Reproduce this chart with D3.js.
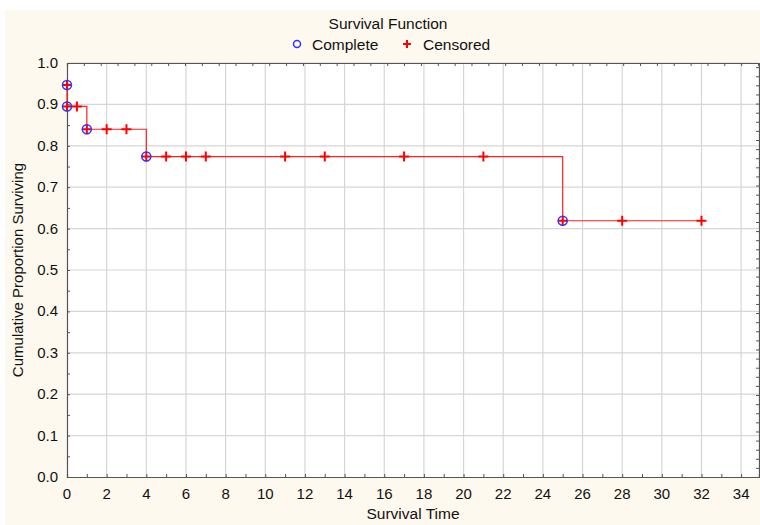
<!DOCTYPE html>
<html>
<head>
<meta charset="utf-8">
<script src="https://cdn.jsdelivr.net/npm/d3@7"></script>
<style>
  body { margin: 0; background: #fff; }
  svg { display: block; font-family: "Liberation Sans", Arial, sans-serif; }
</style>
</head>
<body>
<div id="chart"></div>
<script>
// Kaplan-Meier survival function
const stepTimes = [0, 0, 1, 4, 25, 32];
const stepValues = [0.947, 0.895, 0.84, 0.774, 0.619, 0.619];

const completeTimes = [0, 0, 1, 4, 25];
const completeValues = [0.947, 0.895, 0.84, 0.774, 0.619];

const censoredTimes = [0, 0, 0.5, 1, 2, 3, 4, 5, 6, 7, 11, 13, 17, 21, 25, 28, 32];
const censoredValues = [0.947, 0.895, 0.895, 0.84, 0.84, 0.84, 0.774, 0.774, 0.774, 0.774, 0.774, 0.774, 0.774, 0.774, 0.619, 0.619, 0.619];

const xTicks = d3.range(0, 35, 2);
const yTicks = d3.range(0, 1.01, 0.1);

const width = 760, height = 525;
const margin = { top: 63, right: 1, bottom: 48, left: 67 };

const svg = d3.select("#chart")
    .append("svg")
    .attr("width", width)
    .attr("height", height);

// cream frame
svg.append("rect")
    .attr("x", 5).attr("y", 10)
    .attr("width", width - 5).attr("height", height - 10)
    .attr("fill", "#fef9ee");

const x = d3.scaleLinear()
    .domain([0, 34.9])
    .range([margin.left, width - margin.right]);

const y = d3.scaleLinear()
    .domain([0, 1])
    .range([height - margin.bottom, margin.top]);

// plot area
svg.append("rect")
    .attr("x", x(0)).attr("y", y(1))
    .attr("width", x.range()[1] - x(0))
    .attr("height", y(0) - y(1))
    .attr("fill", "#fff");

// grid
svg.append("g")
    .selectAll("line")
    .data(xTicks.slice(1))
    .join("line")
    .attr("x1", (d) => x(d)).attr("x2", (d) => x(d))
    .attr("y1", y(0)).attr("y2", y(1))
    .attr("stroke", "#d6d6d6").attr("stroke-width", 1.2);

svg.append("g")
    .selectAll("line")
    .data(yTicks.slice(1))
    .join("line")
    .attr("x1", x(0)).attr("x2", x.range()[1])
    .attr("y1", (d) => y(d)).attr("y2", (d) => y(d))
    .attr("stroke", "#d6d6d6").attr("stroke-width", 1.2);

// axes (ticks point inward)
const axisColor = "#555";

const xAxis = svg.append("g")
    .attr("transform", `translate(0,${y(0)})`)
    .call(d3.axisBottom(x).tickValues(d3.range(0, 35, 1)).tickSize(-3).tickFormat(""));
xAxis.append("g").selectAll("text")
    .data(xTicks)
    .join("text")
    .attr("x", (d) => x(d))
    .attr("y", 22)
    .attr("text-anchor", "middle")
    .attr("fill", "#111")
    .attr("font-size", "15px")
    .text((d) => d);

const yAxis = svg.append("g")
    .attr("transform", `translate(${x(0)},0)`)
    .call(d3.axisLeft(y).tickValues(d3.range(0, 1.001, 0.05)).tickSize(-3).tickFormat(""));
yAxis.append("g").selectAll("text")
    .data(yTicks)
    .join("text")
    .attr("x", -9)
    .attr("y", (d) => y(d) + 5)
    .attr("text-anchor", "end")
    .attr("fill", "#111")
    .attr("font-size", "15px")
    .text((d) => d.toFixed(1));

svg.append("g")
    .attr("transform", `translate(0,${y(1)})`)
    .call(d3.axisTop(x).tickValues(d3.range(0, 35, 0.85)).tickSize(-3).tickFormat(""));

svg.append("g")
    .attr("transform", `translate(${x.range()[1]},0)`)
    .call(d3.axisRight(y).tickValues(d3.range(0, 1.001, 0.022)).tickSize(-3).tickFormat(""));

svg.selectAll(".domain").attr("stroke", axisColor).attr("stroke-width", 1.2);
svg.selectAll(".tick line").attr("stroke", axisColor);

// axis titles
svg.append("text")
    .attr("x", (x.range()[0] + x.range()[1]) / 2)
    .attr("y", height - 6)
    .attr("text-anchor", "middle")
    .attr("font-size", "15.5px")
    .attr("fill", "#111")
    .text("Survival Time");

svg.append("text")
    .attr("transform", "rotate(-90)")
    .attr("x", -(y(0) + y(1)) / 2)
    .attr("y", 23)
    .attr("text-anchor", "middle")
    .attr("font-size", "15px")
    .attr("fill", "#111")
    .text("Cumulative Proportion Surviving");

// step line
const stepData = stepTimes.map((t, i) => [t, stepValues[i]]);
const line = d3.line()
    .x((d) => x(d[0]))
    .y((d) => y(d[1]))
    .curve(d3.curveStepAfter);

svg.append("path")
    .datum(stepData)
    .attr("d", line)
    .attr("fill", "none")
    .attr("stroke", "#ff2020")
    .attr("stroke-width", 1.2);

// censored markers
svg.append("g")
    .selectAll("path")
    .data(censoredTimes.map((t, i) => [t, censoredValues[i]]))
    .join("path")
    .attr("d", (d) => {
        const cx = x(d[0]), cy = y(d[1]);
        return `M${cx - 5},${cy}H${cx + 5}M${cx},${cy - 5}V${cy + 5}`;
    })
    .attr("stroke", "#ff0000")
    .attr("stroke-width", 2);

// complete markers
svg.append("g")
    .selectAll("circle")
    .data(completeTimes.map((t, i) => [t, completeValues[i]]))
    .join("circle")
    .attr("cx", (d) => x(d[0]))
    .attr("cy", (d) => y(d[1]))
    .attr("r", 4.5)
    .attr("fill", "none")
    .attr("stroke", "#3333ff")
    .attr("stroke-width", 1.5);

// legend
svg.append("text")
    .attr("x", 388)
    .attr("y", 29)
    .attr("text-anchor", "middle")
    .attr("font-size", "15.5px")
    .attr("fill", "#111")
    .text("Survival Function");

svg.append("circle")
    .attr("cx", 297).attr("cy", 44).attr("r", 3.5)
    .attr("fill", "none").attr("stroke", "#3333ff").attr("stroke-width", 1.5);
svg.append("text")
    .attr("x", 312).attr("y", 49.5)
    .attr("font-size", "15.5px").attr("fill", "#111")
    .text("Complete");

svg.append("path")
    .attr("d", "M403,44H411M407,40V48")
    .attr("stroke", "#ff0000").attr("stroke-width", 2);
svg.append("text")
    .attr("x", 423).attr("y", 49.5)
    .attr("font-size", "15.5px").attr("fill", "#111")
    .text("Censored");
</script>
</body>
</html>
